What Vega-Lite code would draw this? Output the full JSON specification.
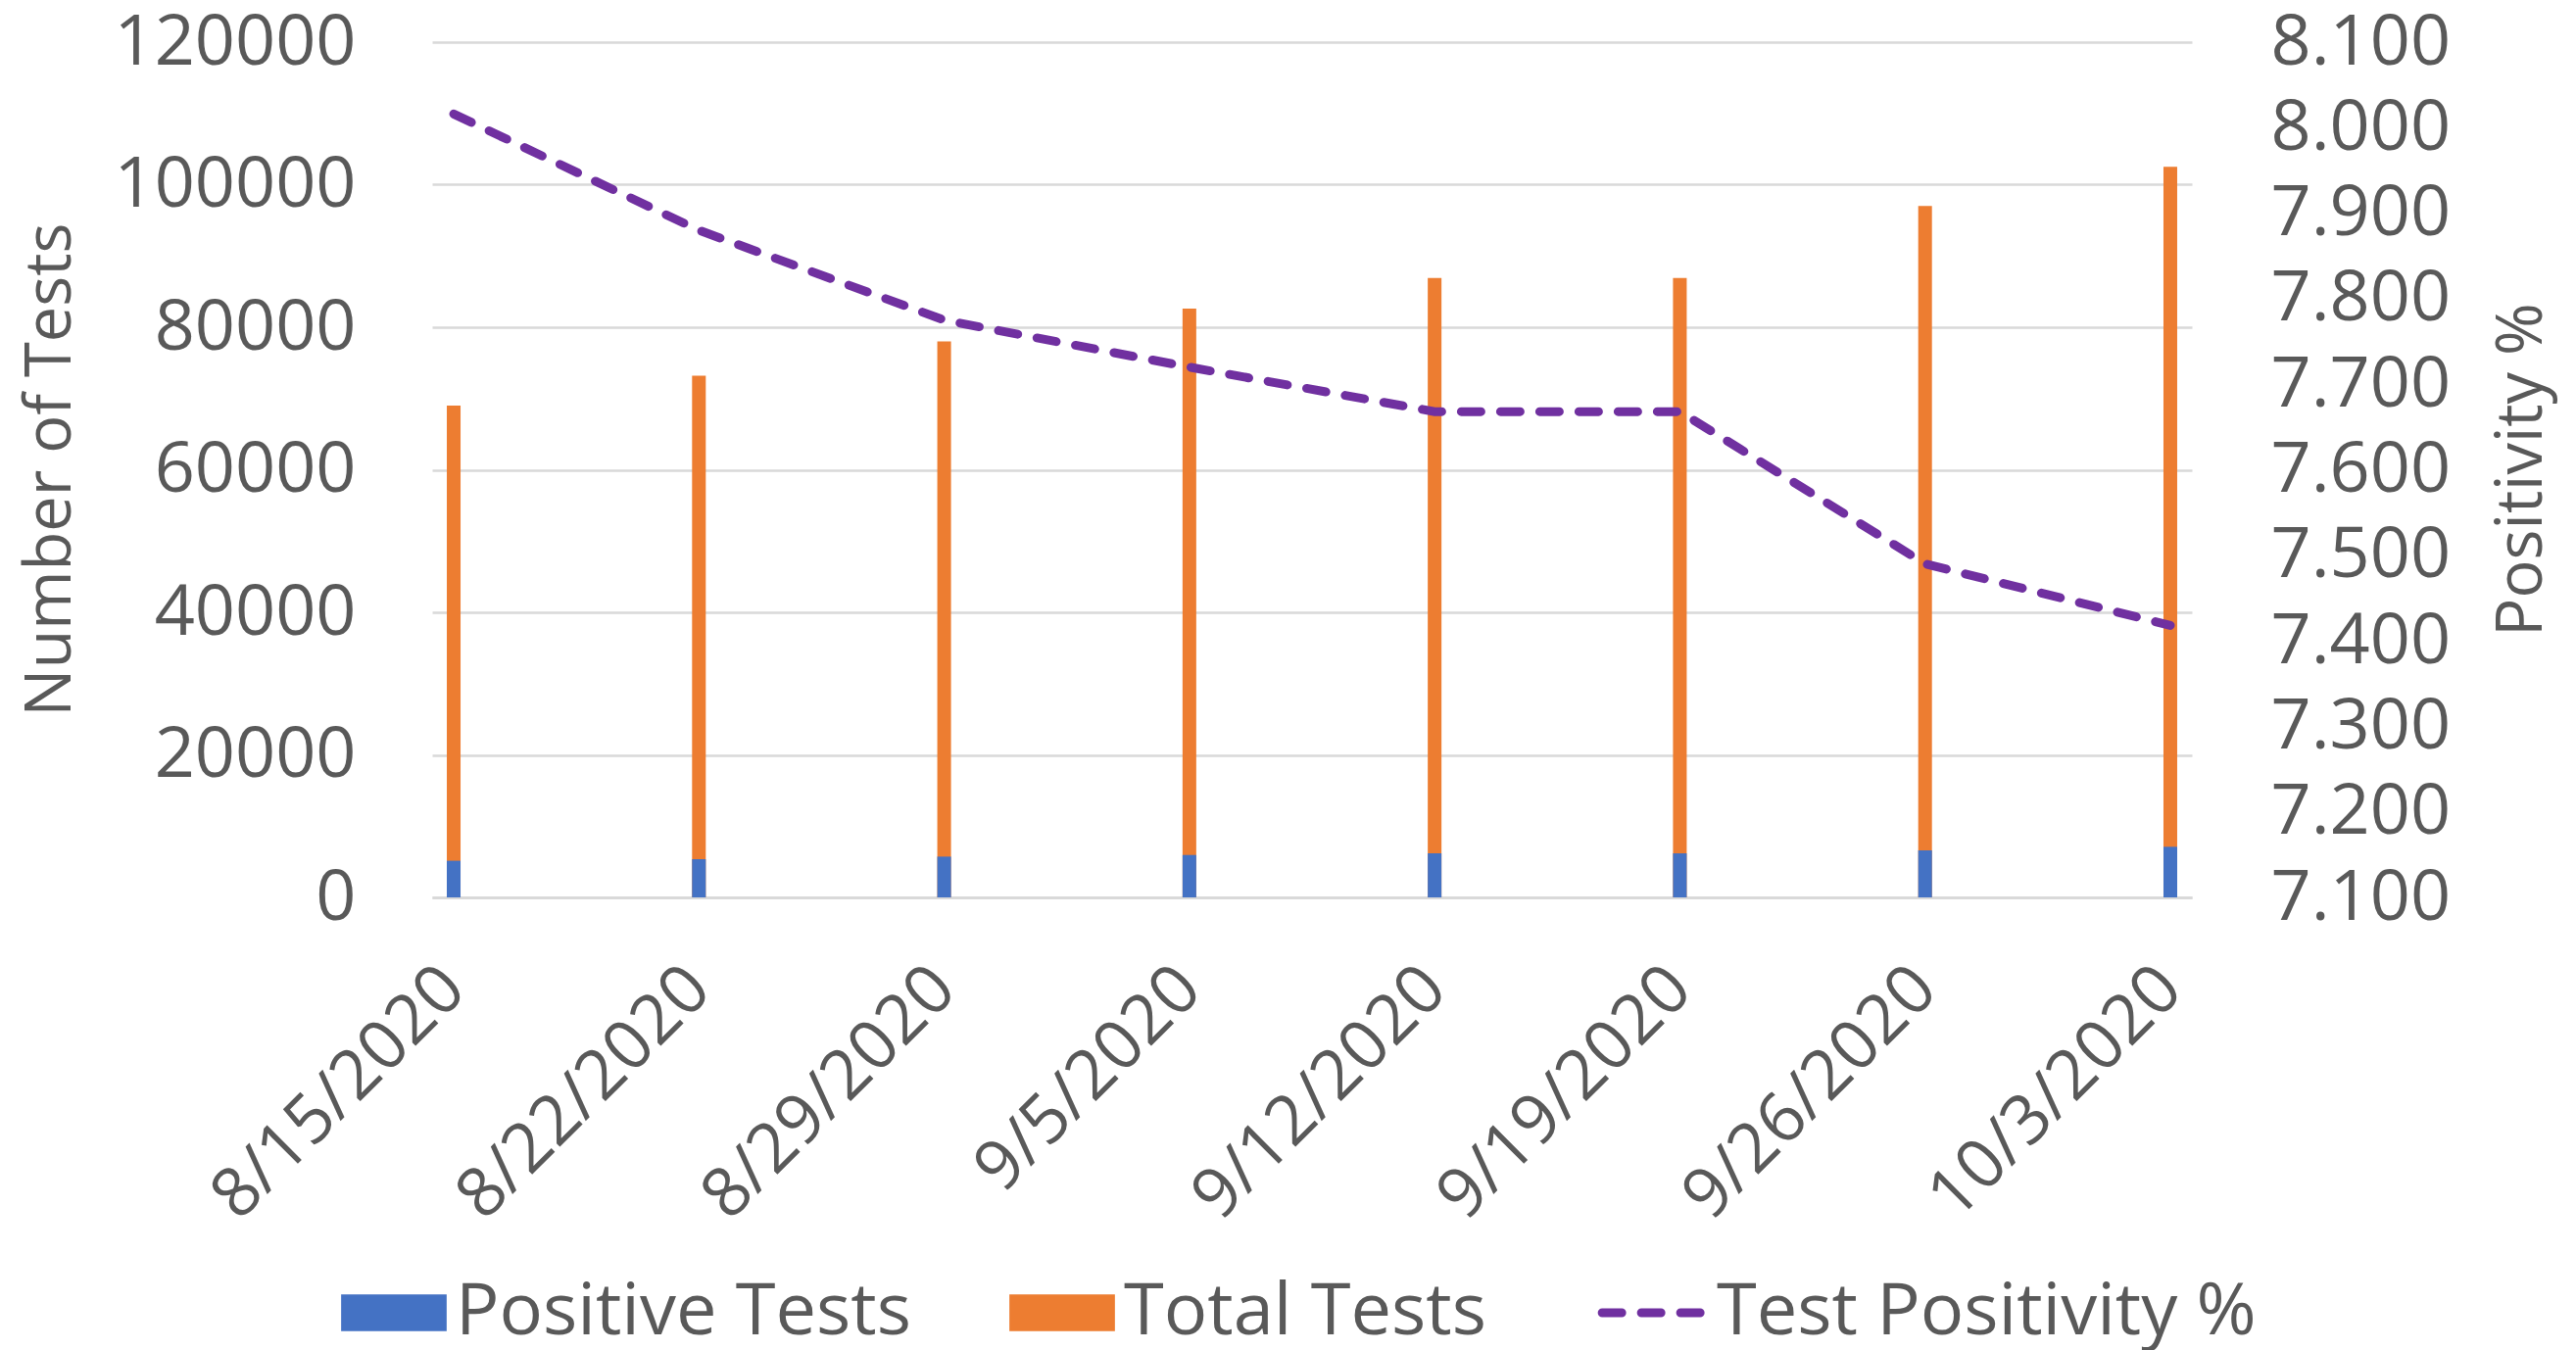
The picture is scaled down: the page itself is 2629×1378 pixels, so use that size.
{
  "$schema": "https://vega.github.io/schema/vega-lite/v6.json",
  "width": 1796,
  "height": 873,
  "autosize": {"type": "none"},
  "padding": {"left": 441, "top": 43, "right": 392, "bottom": 462},
  "background": "white",
  "config": {
    "view": {"stroke": null},
    "font": "Open Sans",
    "axis": {
      "labelFont": "Open Sans",
      "titleFont": "Open Sans",
      "labelColor": "#595959",
      "titleColor": "#595959",
      "titleFontWeight": "normal",
      "labelFontSize": 72,
      "titleFontSize": 65,
      "labelLimit": 0,
      "ticks": false
    },
    "legend": {
      "labelFont": "Open Sans",
      "labelColor": "#595959",
      "labelFontSize": 74
    }
  },
  "data": {
    "values": [
      {"date": "8/15/2020", "positive": 5140, "total": 69000, "positivity": 8.016},
      {"date": "8/22/2020", "positive": 5360, "total": 73200, "positivity": 7.880},
      {"date": "8/29/2020", "positive": 5720, "total": 78000, "positivity": 7.775},
      {"date": "9/5/2020", "positive": 5950, "total": 82600, "positivity": 7.720},
      {"date": "9/12/2020", "positive": 6180, "total": 86900, "positivity": 7.668},
      {"date": "9/19/2020", "positive": 6180, "total": 86900, "positivity": 7.668},
      {"date": "9/26/2020", "positive": 6600, "total": 97000, "positivity": 7.490},
      {"date": "10/3/2020", "positive": 7100, "total": 102500, "positivity": 7.418}
    ]
  },
  "encoding": {
    "x": {
      "field": "date",
      "type": "ordinal",
      "sort": null,
      "scale": {"type": "point", "padding": 0.088},
      "axis": {
        "title": null,
        "labelAngle": -45,
        "labelAlign": "right",
        "labelBaseline": "middle",
        "labelFontSize": 70,
        "labelPadding": 82,
        "labelOverlap": false,
        "domain": true,
        "domainColor": "#D9D9D9",
        "domainWidth": 3,
        "grid": false
      }
    }
  },
  "layer": [
    {
      "layer": [
        {
          "mark": {"type": "bar", "size": 14},
          "encoding": {
            "y": {
              "field": "total",
              "type": "quantitative",
              "scale": {"domain": [0, 120000]},
              "axis": {
                "title": "Number of Tests",
                "orient": "left",
                "values": [0, 20000, 40000, 60000, 80000, 100000, 120000],
                "format": "d",
                "labelPadding": 78,
                "titleX": -390,
                "titleY": 436,
                "titleBaseline": "middle",
                "titleAlign": "center",
                "domain": false,
                "grid": true,
                "gridColor": "#D9D9D9",
                "gridWidth": 2.5
              }
            },
            "color": {
              "datum": "Total Tests",
              "type": "nominal",
              "scale": {
                "domain": ["Positive Tests", "Total Tests", "Test Positivity %"],
                "range": ["#4472C4", "#ED7D31", "#7030A0"]
              },
              "legend": {
                "orient": "none",
                "legendX": -76,
                "legendY": 1260,
                "direction": "horizontal",
                "title": null,
                "padding": 0,
                "symbolSize": 11600,
                "labelOffset": 26,
                "columnPadding": 100,
                "labelLimit": 0,
                "encode": {
                  "symbols": {
                    "update": {
                      "shape": {"signal": "datum.value === 'Test Positivity %' ? 'M-1,0H1' : 'M-1,-0.35H1V0.35H-1Z'"},
                      "fill": {"signal": "datum.value === 'Test Positivity %' ? 'transparent' : (datum.value === 'Positive Tests' ? '#4472C4' : '#ED7D31')"},
                      "stroke": {"signal": "datum.value === 'Test Positivity %' ? '#7030A0' : 'transparent'"},
                      "strokeWidth": {"signal": "datum.value === 'Test Positivity %' ? 9 : 0"},
                      "strokeDash": {"signal": "datum.value === 'Test Positivity %' ? [20, 20] : [1, 0]"},
                      "strokeCap": {"value": "round"},
                      "opacity": {"value": 1}
                    }
                  }
                }
              }
            }
          }
        },
        {
          "mark": {"type": "bar", "size": 14},
          "encoding": {
            "y": {"field": "positive", "type": "quantitative"},
            "color": {"datum": "Positive Tests", "type": "nominal"}
          }
        }
      ]
    },
    {
      "mark": {"type": "line", "strokeWidth": 9, "strokeDash": [20, 20], "strokeCap": "round"},
      "encoding": {
        "y": {
          "field": "positivity",
          "type": "quantitative",
          "scale": {"domain": [7.1, 8.1], "zero": false},
          "axis": {
            "title": "Positivity %",
            "orient": "right",
            "values": [7.1, 7.2, 7.3, 7.4, 7.5, 7.6, 7.7, 7.8, 7.9, 8.0, 8.1],
            "format": ".3f",
            "labelPadding": 80,
            "titleAngle": -90,
            "titleX": 336,
            "titleY": 436,
            "titleBaseline": "middle",
            "titleAlign": "center",
            "domain": false,
            "grid": false
          }
        },
        "color": {"datum": "Test Positivity %", "type": "nominal"}
      }
    }
  ],
  "resolve": {"scale": {"y": "independent"}}
}
